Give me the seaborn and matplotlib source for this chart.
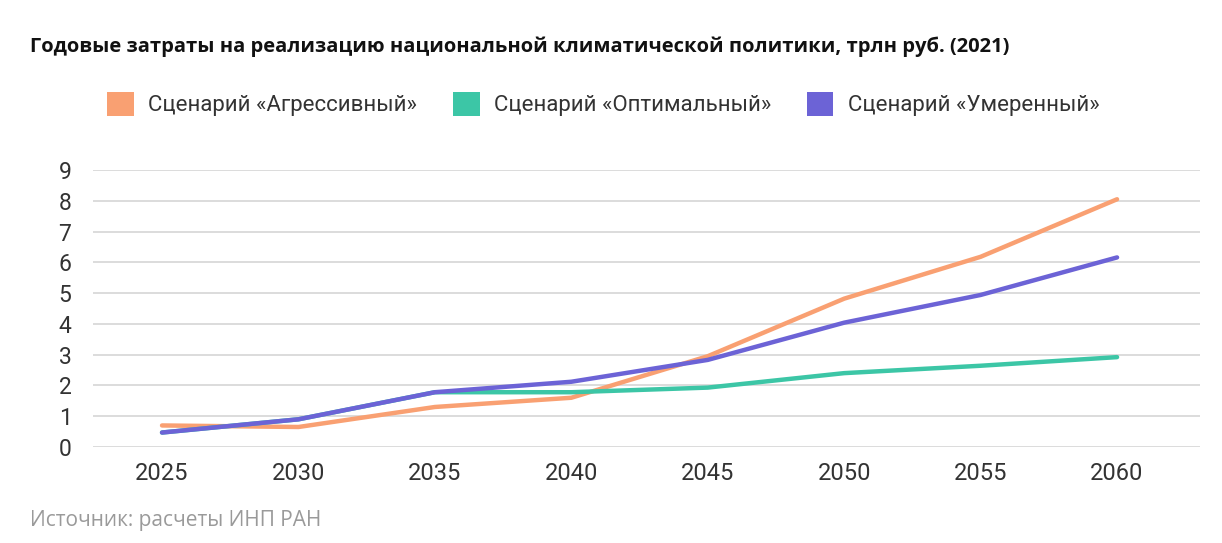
import matplotlib
matplotlib.use("Agg")
import matplotlib.pyplot as plt
from matplotlib.patches import Patch
import pandas as pd
import seaborn as sns

# Данные (трлн руб., цены 2021 г.)
years = [2025, 2030, 2035, 2040, 2045, 2050, 2055, 2060]
aggressive = [0.70, 0.65, 1.30, 1.60, 2.95, 4.82, 6.18, 8.05]
optimal = [0.47, 0.90, 1.78, 1.78, 1.93, 2.40, 2.64, 2.92]
moderate = [0.47, 0.90, 1.78, 2.12, 2.83, 4.04, 4.94, 6.16]

scenarios = ["Сценарий «Агрессивный»", "Сценарий «Оптимальный»", "Сценарий «Умеренный»"]
colors = ["#F9A072", "#3CC6A6", "#6C63D6"]

title = "Годовые затраты на реализацию национальной климатической политики, трлн руб. (2021)"
source = "Источник: расчеты ИНП РАН"

df = pd.DataFrame({
    "year": years * 3,
    "value": aggressive + optimal + moderate,
    "scenario": [scenarios[0]] * len(years) + [scenarios[1]] * len(years) + [scenarios[2]] * len(years),
})

sns.set_theme(style="white")
plt.rcParams["font.family"] = ["Roboto", "DejaVu Sans"]

fig = plt.figure(figsize=(12.22, 5.43), dpi=100)
ax = fig.add_axes([0.0761, 0.1768, 0.9059, 0.5101])

sns.lineplot(data=df, x="year", y="value", hue="scenario", hue_order=scenarios,
             palette=colors, linewidth=3.2, ax=ax, legend=False)

ax.set_xlim(2022.47, 2063.04)
ax.set_ylim(0, 9)
ax.set_xticks(years)
ax.set_yticks(range(10))
ax.yaxis.grid(True, color="#dcdcdc", linewidth=1.4)
ax.set_axisbelow(True)
for s in ax.spines.values():
    s.set_visible(False)
ax.set_xlabel("")
ax.set_ylabel("")
ax.tick_params(axis="x", labelsize=17, colors="#333333", pad=11, length=0)
ax.tick_params(axis="y", labelsize=16.5, colors="#333333", pad=15.5, length=0)

fig.text(0.0245, 0.913, title, fontsize=14.5, fontweight="bold",
         family=["Open Sans", "DejaVu Sans"], va="center", color="#111111")

handles = [Patch(facecolor=c, edgecolor="none") for c in colors]
fig.legend(handles, scenarios, loc="center left", bbox_to_anchor=(0.0715, 0.8085), ncol=3,
           frameon=False, fontsize=16, handlelength=1.2, handleheight=1.35,
           handletextpad=0.65, columnspacing=1.6, labelcolor="#333333")

fig.text(0.0245, 0.042, source, fontsize=15, color="#9a9a9a", va="center",
         family=["Open Sans", "DejaVu Sans"])

fig.savefig("out.png", dpi=100)
